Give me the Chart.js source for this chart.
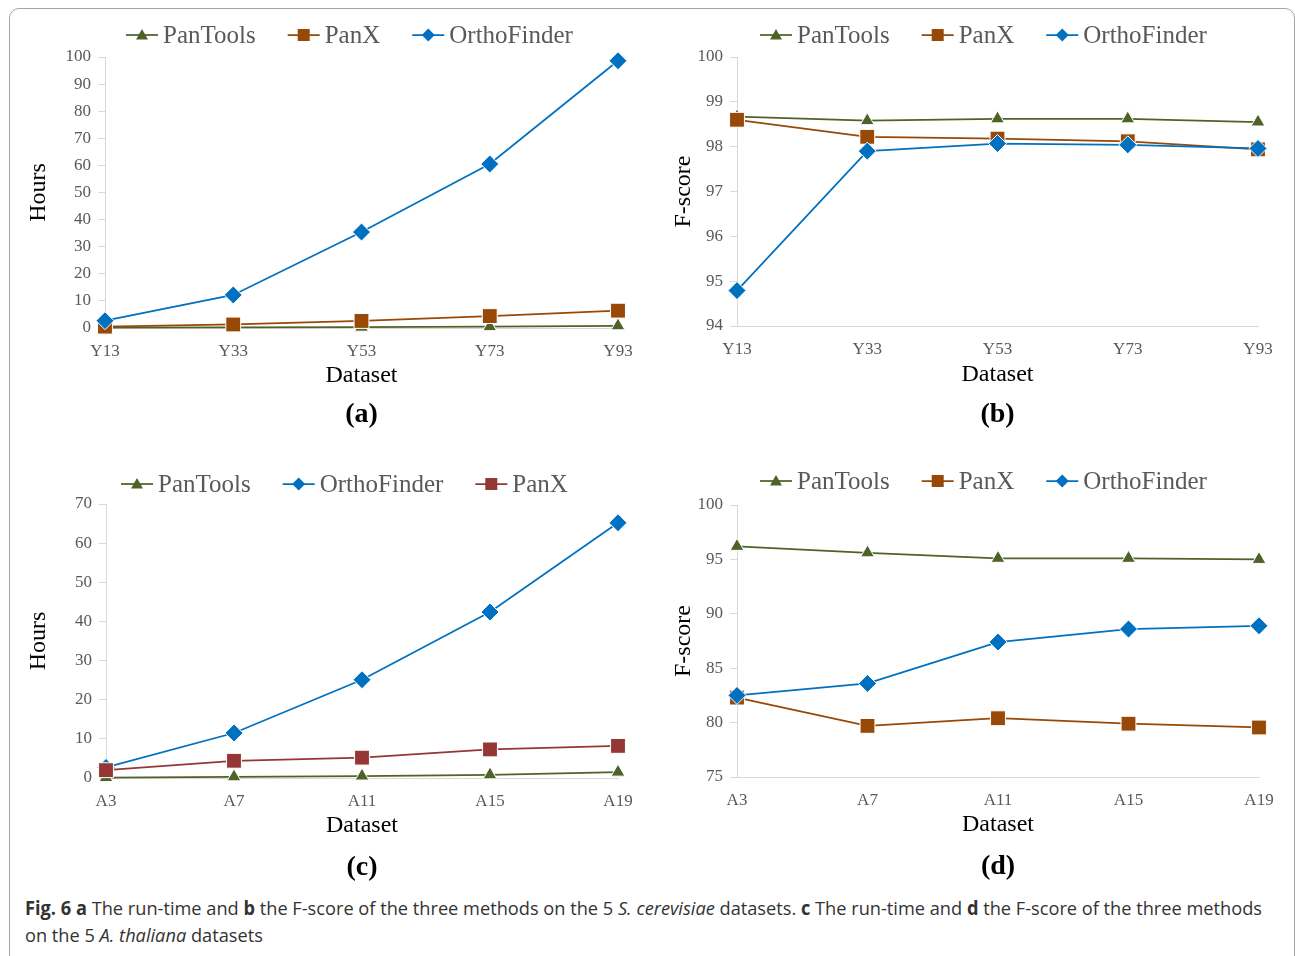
<!DOCTYPE html>
<html>
<head>
<meta charset="utf-8">
<script src="https://cdn.jsdelivr.net/npm/chart.js@4/dist/chart.umd.min.js"></script>
<style>
  body { margin: 0; background: #fff; width: 1295px; height: 956px; position: relative; overflow: hidden; }
  #frame { position: absolute; left: 9px; top: 8px; width: 1284px; height: 980px; border: 1px solid #a6a6a6; border-radius: 10px; }
  .box { position: absolute; }
  #caption { position: absolute; left: 25px; top: 895px; font-family: "Open Sans", sans-serif; font-size: 19px; line-height: 27px; color: #333; }
  #caption span { display: inline-block; white-space: nowrap; transform-origin: left center; }
</style>
</head>
<body>
<div id="frame"></div>
<div class="box" id="boxA"><canvas id="chartA"></canvas></div>
<div class="box" id="boxB"><canvas id="chartB"></canvas></div>
<div class="box" id="boxC"><canvas id="chartC"></canvas></div>
<div class="box" id="boxD"><canvas id="chartD"></canvas></div>
<div id="caption"><span id="cap1"><b>Fig. 6 a</b> The run-time and <b>b</b> the F-score of the three methods on the 5 <i>S. cerevisiae</i> datasets. <b>c</b> The run-time and <b>d</b> the F-score of the three methods</span><br><span id="cap2">on the 5 <i>A. thaliana</i> datasets</span></div>
<script>
// datasets
const yeastSets = ['Y13', 'Y33', 'Y53', 'Y73', 'Y93'];
const arabSets = ['A3', 'A7', 'A11', 'A15', 'A19'];

// (a) run-time, S. cerevisiae (hours)
const hoursYeastPanTools = [0.1, 0.2, 0.3, 0.5, 0.8];
const hoursYeastPanX = [0.5, 1.3, 2.6, 4.4, 6.4];
const hoursYeastOrtho = [2.7, 12.2, 35.4, 60.5, 98.6];

// (b) F-score, S. cerevisiae
const fYeastPanTools = [98.67, 98.58, 98.62, 98.62, 98.55];
const fYeastPanX = [98.6, 98.22, 98.18, 98.12, 97.94];
const fYeastOrtho = [94.79, 97.9, 98.07, 98.04, 97.96];

// (c) run-time, A. thaliana (hours)
const hoursArabPanTools = [0.1, 0.3, 0.5, 0.8, 1.5];
const hoursArabOrtho = [2.7, 11.5, 25.1, 42.4, 65.2];
const hoursArabPanX = [2.0, 4.4, 5.2, 7.3, 8.2];

// (d) F-score, A. thaliana
const fArabPanTools = [96.2, 95.6, 95.1, 95.1, 95.0];
const fArabPanX = [82.3, 79.7, 80.4, 79.9, 79.55];
const fArabOrtho = [82.5, 83.6, 87.4, 88.6, 88.9];

const GREEN = '#4f6228';
const BROWN = '#984807';
const RED = '#953735';
const BLUE = '#0070c0';
const GREY = '#595959';
const SERIF = '"Liberation Serif", "Times New Roman", serif';

function series(label, data, color, style) {
    const radius = { triangle: 8, rect: 10.5, rectRot: 9 }[style];
    return {
        label, data,
        borderColor: color, backgroundColor: color, borderWidth: 1.75,
        pointStyle: style, pointRadius: radius, pointHoverRadius: radius,
        pointBackgroundColor: color, pointBorderColor: '#ffffff', pointBorderWidth: 1,
        tension: 0, clip: false
    };
}

function marker(ctx, style, x, y, color) {
    ctx.fillStyle = color;
    ctx.beginPath();
    if (style === 'triangle') {
        ctx.moveTo(x, y - 6); ctx.lineTo(x + 6, y + 4.5); ctx.lineTo(x - 6, y + 4.5);
    } else if (style === 'rect') {
        ctx.rect(x - 6, y - 6, 12, 12);
    } else {
        ctx.moveTo(x, y - 6.5); ctx.lineTo(x + 6.5, y); ctx.lineTo(x, y + 6.5); ctx.lineTo(x - 6.5, y);
    }
    ctx.closePath();
    ctx.fill();
}

// legend drawn as line-marker-line samples like the original
const lineLegend = {
    id: 'lineLegend',
    afterDraw(chart, args, opts) {
        const ctx = chart.ctx;
        let x = opts.x;
        const y = opts.y;
        ctx.save();
        ctx.font = '25px ' + SERIF;
        ctx.textBaseline = 'middle';
        chart.data.datasets.forEach(ds => {
            ctx.strokeStyle = ds.borderColor;
            ctx.lineWidth = 1.75;
            ctx.beginPath(); ctx.moveTo(x, y); ctx.lineTo(x + 32, y); ctx.stroke();
            marker(ctx, ds.pointStyle, x + 16, y, ds.pointBackgroundColor);
            ctx.fillStyle = GREY;
            ctx.fillText(ds.label, x + 37, y + 1);
            x += 37 + ctx.measureText(ds.label).width + 32;
        });
        ctx.restore();
    }
};

function makeChart(id, box, labels, sets, yMin, yMax, yStep, yTitle, tag) {
    const el = document.getElementById('box' + id);
    el.style.left = box.left + 'px';
    el.style.top = box.top + 'px';
    const canvas = document.getElementById('chart' + id);
    canvas.width = box.width; canvas.height = box.height;

    const a = box.area;
    const padTop = a.t - box.top;
    const yW = a.l - box.left;
    const padRight = box.left + box.width - a.r;
    const xH = box.datasetY + 14.4 - a.b;
    const tagPad = box.tagY - 16.8 - (a.b + xH);
    const padBottom = box.top + box.height - (a.b + xH + tagPad + 33.6);

    // last series in the list sits on top, as in the original
    sets.forEach((s, i) => { s.order = sets.length - i; });

    return new Chart(canvas, {
        type: 'line',
        data: { labels, datasets: sets },
        plugins: [lineLegend],
        options: {
            responsive: false,
            animation: false,
            layout: { padding: { top: padTop, left: 0, right: padRight, bottom: padBottom } },
            plugins: {
                legend: { display: false },
                tooltip: { enabled: false },
                title: {
                    display: true, text: tag, position: 'bottom', fullSize: false,
                    color: '#000', font: { family: SERIF, size: 28, weight: 'bold' },
                    padding: { top: tagPad, bottom: 0 }
                },
                lineLegend: { x: box.legendX - box.left, y: box.legendY - box.top }
            },
            scales: {
                x: {
                    offset: false,
                    grid: { display: false },
                    border: { display: true, color: '#d9d9d9', width: 1 },
                    ticks: { color: GREY, font: { family: SERIF, size: 17 }, padding: 5, maxRotation: 0 },
                    title: { display: true, text: 'Dataset', color: '#000', font: { family: SERIF, size: 24 }, padding: 0 },
                    afterFit(s) { s.height = xH; s.paddingLeft = 0; s.paddingRight = 0; }
                },
                y: {
                    min: yMin, max: yMax,
                    grid: { drawOnChartArea: false, drawTicks: true, tickLength: 7, color: '#d9d9d9' },
                    border: { display: true, color: '#d9d9d9', width: 1 },
                    ticks: { stepSize: yStep, color: GREY, font: { family: SERIF, size: 17 }, padding: 7 },
                    title: { display: true, text: yTitle, color: '#000', font: { family: SERIF, size: 24 }, padding: { top: 9, bottom: 0 } },
                    afterFit(s) { s.width = yW; s.paddingTop = 0; s.paddingBottom = 0; }
                }
            }
        }
    });
}

makeChart('A',
    { left: 15, top: 12, width: 645, height: 424, area: { l: 105, t: 57, r: 618, b: 328 }, datasetY: 376, tagY: 415, legendX: 126, legendY: 35 },
    yeastSets,
    [series('PanTools', hoursYeastPanTools, GREEN, 'triangle'),
     series('PanX', hoursYeastPanX, BROWN, 'rect'),
     series('OrthoFinder', hoursYeastOrtho, BLUE, 'rectRot')],
    0, 100, 10, 'Hours', '(a)');

makeChart('B',
    { left: 660, top: 12, width: 625, height: 424, area: { l: 737, t: 57, r: 1258, b: 326 }, datasetY: 375, tagY: 415, legendX: 760, legendY: 35 },
    yeastSets,
    [series('PanTools', fYeastPanTools, GREEN, 'triangle'),
     series('PanX', fYeastPanX, BROWN, 'rect'),
     series('OrthoFinder', fYeastOrtho, BLUE, 'rectRot')],
    94, 100, 1, 'F-score', '(b)');

makeChart('C',
    { left: 15, top: 459, width: 645, height: 424, area: { l: 106, t: 504, r: 618, b: 778 }, datasetY: 826, tagY: 868, legendX: 121, legendY: 484 },
    arabSets,
    [series('PanTools', hoursArabPanTools, GREEN, 'triangle'),
     series('OrthoFinder', hoursArabOrtho, BLUE, 'rectRot'),
     series('PanX', hoursArabPanX, RED, 'rect')],
    0, 70, 10, 'Hours', '(c)');

makeChart('D',
    { left: 660, top: 460, width: 625, height: 424, area: { l: 737, t: 505, r: 1259, b: 777 }, datasetY: 825, tagY: 867, legendX: 760, legendY: 481 },
    arabSets,
    [series('PanTools', fArabPanTools, GREEN, 'triangle'),
     series('PanX', fArabPanX, BROWN, 'rect'),
     series('OrthoFinder', fArabOrtho, BLUE, 'rectRot')],
    75, 100, 5, 'F-score', '(d)');

// squeeze the caption to the width of the original's first line
const cap1 = document.getElementById('cap1');
const cap2 = document.getElementById('cap2');
const k = 1237 / cap1.getBoundingClientRect().width;
cap1.style.transform = 'scaleX(' + k + ')';
cap2.style.transform = 'scaleX(' + k + ')';
</script>
</body>
</html>
